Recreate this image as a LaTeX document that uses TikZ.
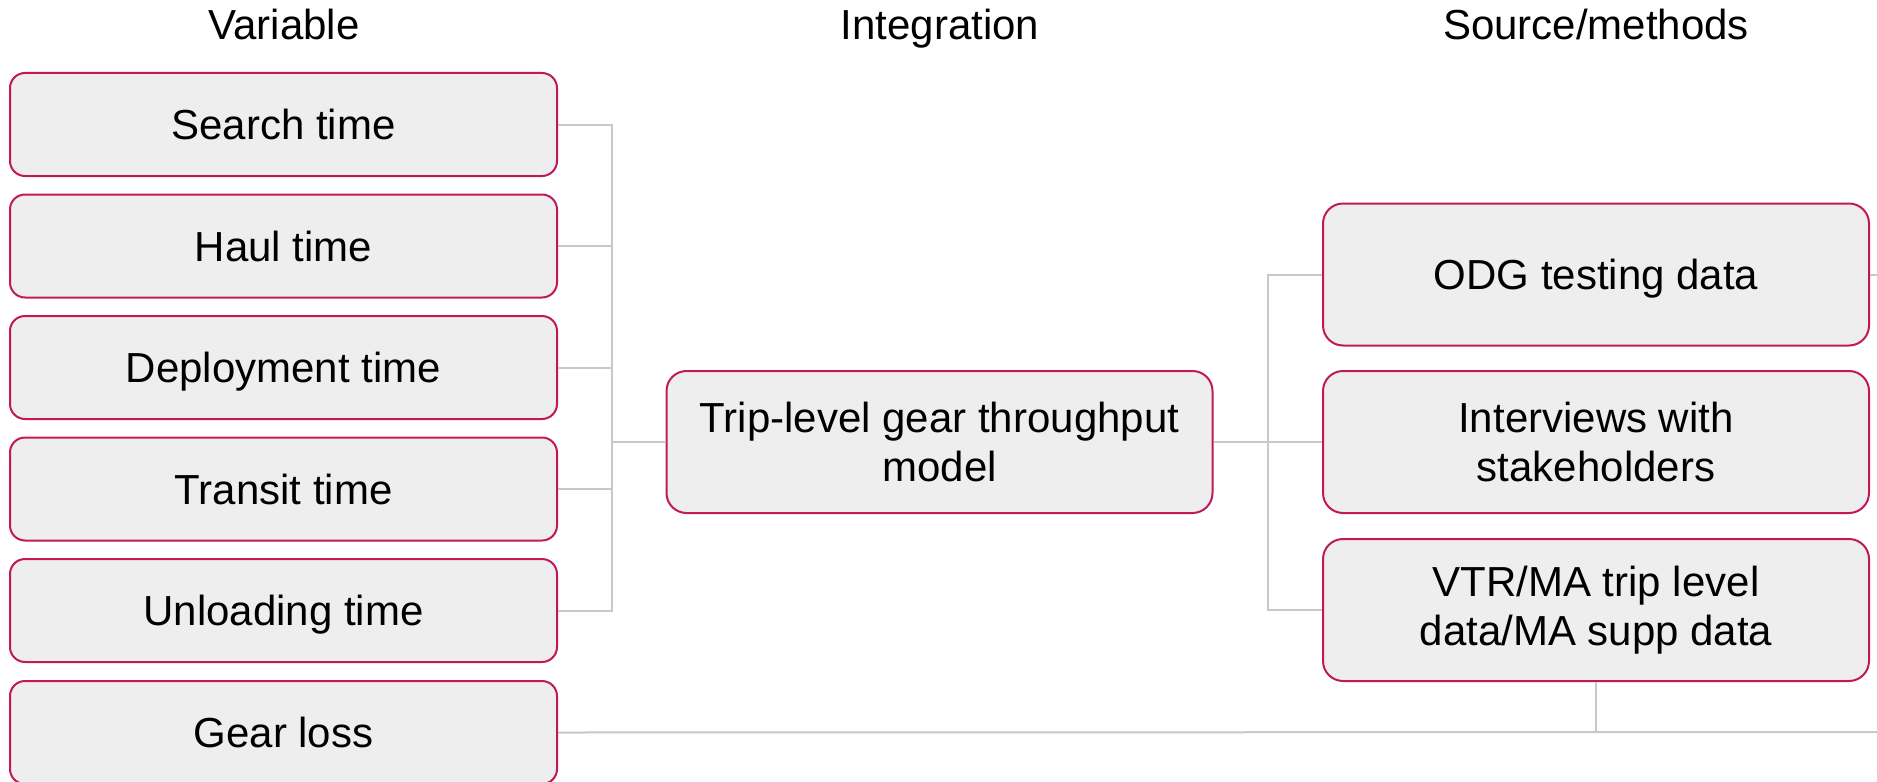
\documentclass[tikz,border=0pt]{standalone}
\usepackage{fontspec}
\setmainfont{Liberation Sans}
\definecolor{boxfill}{HTML}{EEEEEE}
\definecolor{boxline}{HTML}{C2185B}
\definecolor{conn}{HTML}{C8C8C8}
\tikzset{
  box/.style={draw=boxline, line width=1pt, fill=boxfill, rounded corners=7.5pt,
    align=center, inner sep=0pt, font=\fontsize{21pt}{24.5pt}\selectfont},
  oneline/.style={text height=15pt, text depth=0pt},
  leftbox/.style={box, oneline, minimum width=273.5pt, minimum height=51.5pt},
  bigbox/.style={box, rounded corners=10pt, minimum width=273pt, minimum height=71pt},
  wire/.style={draw=conn, line width=1pt},
  head/.style={inner sep=0pt, anchor=base, font=\fontsize{21pt}{24.5pt}\selectfont}
}
\begin{document}
\begin{tikzpicture}[x=0.5pt,y=-0.5pt]
\useasboundingbox (0,0) rectangle (1877,781);
\clip (0,0) rectangle (1877,781);
% headers
\node[head] (h1) at (284,40) {Variable};
\node[head] (h2) at (940,40) {Integration};
\node[head] (h3) at (1596,40) {Source/methods};
% coordinates
\coordinate (bL) at (612,442);
\coordinate (bR) at (1268,442);
\coordinate (stub) at (1877,274.5);
\coordinate (gend) at (1877,732);
% left boxes
\node[leftbox] (v1) at (283.5,124.5) {Search time};
\node[leftbox] (v2) at (283.5,246) {Haul time};
\node[leftbox] (v3) at (283.5,367.5) {Deployment time};
\node[leftbox] (v4) at (283.5,489) {Transit time};
\node[leftbox] (v5) at (283.5,610.5) {Unloading time};
\node[leftbox] (g) at (283.5,732.5) {Gear loss};
% center
\node[bigbox] (m) at (939.5,442) {Trip-level gear throughput\\model};
% right
\node[bigbox, oneline] (r1) at (1596,274.5) {ODG testing data};
\node[bigbox] (r2) at (1596,442) {Interviews with\\stakeholders};
\node[bigbox] (r3) at (1596,610) {VTR/MA trip level\\data/MA supp data};
% wires
\draw[wire] (v1.east) -| (bL);
\draw[wire] (v2.east) -| (bL);
\draw[wire] (v3.east) -| (bL);
\draw[wire] (v4.east) -| (bL);
\draw[wire] (v5.east) -| (bL);
\draw[wire] (bL) -- (m.west);
\draw[wire] (m.east) -- (bR);
\draw[wire] (bR) |- (r1.west);
\draw[wire] (bR) -- (r2.west);
\draw[wire] (bR) |- (r3.west);
\draw[wire] (r1.east) -- (stub);
\draw[wire] (g.east) -- (gend);
\draw[wire] (r3.south) -- (r3.south |- gend);
\end{tikzpicture}
\end{document}
